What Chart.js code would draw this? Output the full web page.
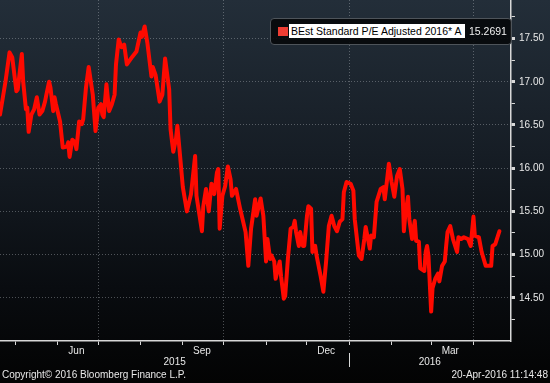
<!DOCTYPE html>
<html>
<head>
<meta charset="utf-8">
<script src="https://cdn.jsdelivr.net/npm/chart.js@4/dist/chart.umd.min.js"></script>
<style>
html,body{margin:0;padding:0;}
body{width:550px;height:383px;overflow:hidden;position:relative;
  background:linear-gradient(to bottom,#232e39 0%,#161d25 40%,#090c10 75%,#030303 100%);
  font-family:"Liberation Sans",Arial,sans-serif;}
#c{position:absolute;left:0;top:-10px;}
.legend{position:absolute;left:270px;top:18px;width:242px;height:27px;box-sizing:border-box;
  border:1px solid #4e545a;border-radius:4px;background:rgba(6,8,10,0.9);}
.sw{position:absolute;left:278px;top:27px;width:10px;height:9px;background:#ee3d33;}
.lt{position:absolute;left:289px;top:24px;width:176px;height:14px;background:#fff;color:#000;
  font-size:10.5px;line-height:14px;padding-left:2px;box-sizing:border-box;white-space:nowrap;overflow:hidden;}
.lv{position:absolute;left:469px;top:24px;height:14px;color:#f0f0f0;font-size:10.5px;line-height:14px;white-space:nowrap;}
.foot{position:absolute;top:369px;height:12px;line-height:12px;font-size:10px;color:#e8e8e8;white-space:nowrap;}
</style>
</head>
<body>
<canvas id="c" width="550" height="393"></canvas>
<div class="legend"></div>
<div class="sw"></div>
<div class="lt">BEst Standard P/E Adjusted 2016* A</div>
<div class="lv">15.2691</div>
<div class="foot" style="left:2px;">Copyright© 2016 Bloomberg Finance L.P.</div>
<div class="foot" style="right:2px;">20-Apr-2016 11:14:48</div>
<script>
// Day offsets from 20-Apr-2015
const days = [0,4,7,9,12,13,16,17,19,20,21,23,25,27,29,31,33,34,36,37,39,40,41,44,46,49,50,51,53,55,56,58,60,61,63,65,68,70,72,74,75,76,78,80,82,84,85,87,89,91,93,
97,100,103,104,106,108,111,112,114,117,119,121,124,125,127,129,130,132,134,137,140,143,144,148,149,151,153,155,157,159,160,161,163,165,167,169,170,173,176,180,182,184,
185,187,188,191,193,195,196,198,199,201,202,205,206,208,209,211,213,215,216,217,219,220,222,223,225,226,228,229,231,232,235,237,239,241,243,245,247,249,251,252,254,257,259,260,263,265,267,268,271,272,274,
276,279,281,282,284,285,287,289,291,293,295,296,297,299,300,302,304,305,307,308,311,312,313,314,316,317,319,321,322,324,326,327,328,330,332,335,336,338,340,343,345,347,348,351,353,356,358,360,361,363,366];
const peValues = [16.62,17.00,17.34,17.28,16.89,16.91,17.32,17.00,16.68,16.70,16.42,16.62,16.68,16.82,16.62,16.66,16.77,16.85,17.00,16.93,16.66,16.82,16.74,16.54,16.24,16.25,16.30,16.13,16.33,16.30,16.22,16.54,16.51,16.57,16.93,17.17,16.85,16.43,16.70,16.74,16.62,16.59,16.97,16.66,16.74,16.85,17.20,17.49,17.40,17.43,17.20,
17.29,17.35,17.57,17.52,17.64,17.45,17.06,17.17,17.08,16.77,16.85,17.27,16.91,16.45,16.19,16.34,16.49,16.14,15.78,15.50,15.70,16.14,15.68,15.27,15.56,15.76,15.50,15.82,15.70,15.95,15.99,15.30,15.68,15.79,16.02,15.87,15.68,15.76,15.53,15.26,14.87,15.30,
15.41,15.64,15.45,15.65,15.45,14.92,15.18,14.95,14.99,14.92,14.72,14.92,14.75,14.49,14.52,14.95,15.30,15.32,15.39,15.26,15.10,15.26,15.10,15.10,15.45,15.56,15.53,15.03,15.10,14.99,14.75,14.57,14.92,15.33,15.45,15.33,15.27,15.38,15.41,15.72,15.84,15.82,15.74,15.41,14.99,14.95,15.18,15.32,15.07,15.22,15.20,
15.61,15.76,15.78,15.64,15.91,16.05,15.84,15.67,15.91,15.99,15.76,15.27,15.45,15.67,15.41,15.18,15.39,15.16,15.15,14.84,14.81,15.03,15.10,14.99,14.34,14.61,14.72,14.78,14.69,14.87,14.92,15.10,15.26,15.33,15.18,15.03,15.20,15.18,15.20,15.18,15.10,15.44,15.22,15.20,15.03,14.87,14.87,14.87,15.10,15.12,15.27];

const monthStarts = [11,42,72,103,134,164,195,225,256,287,316,347];
const quarterStarts = [72,164,256,347];
const monthLabelDays = [56,148,239,330];
const monthLabels = ['Jun','Sep','Dec','Mar'];
const yearLabelDays = [128,315];
const yearLabels = ['2015','2016'];
const yearBreak = 256;
const yTickValues = [14.25,14.5,14.75,15,15.25,15.5,15.75,16,16.25,16.5,16.75,17,17.25,17.5,17.75];
const yLabelValues = [14.5,15,15.5,16,16.5,17,17.5];

const FONT = '"Liberation Sans", Arial, sans-serif';
const GRID = 'rgba(190,195,200,0.38)';
const AXIS = '#d8d8d8';
const TXT = '#e8e8e8';

const yearSeparator = {
  id: 'yearSeparator',
  afterDraw(chart) {
    const s = chart.scales.x2;
    const x = Math.round(s.getPixelForValue(yearBreak)) + 0.5;
    const ctx = chart.ctx;
    ctx.save();
    ctx.strokeStyle = AXIS;
    ctx.lineWidth = 1;
    ctx.beginPath();
    ctx.moveTo(x, s.top - 4);
    ctx.lineTo(x, s.bottom);
    ctx.stroke();
    ctx.restore();
  }
};

new Chart(document.getElementById('c'), {
  type: 'line',
  data: {
    datasets: [{
      data: days.map((d, i) => ({x: d, y: peValues[i]})),
      borderColor: '#ff0a00',
      borderWidth: 4,
      pointRadius: 0,
      tension: 0,
      fill: false,
      borderJoinStyle: 'round',
      borderCapStyle: 'round'
    }]
  },
  plugins: [yearSeparator],
  options: {
    responsive: false,
    animation: false,
    devicePixelRatio: 1,
    layout: {padding: {left: 0, top: 0, right: 2, bottom: 16}},
    plugins: {legend: {display: false}, tooltip: {enabled: false}},
    scales: {
      x: {
        type: 'linear', min: 0, max: 374.5, position: 'bottom',
        afterBuildTicks: s => { s.ticks = [...monthStarts, ...monthLabelDays].sort((a, b) => a - b).map(v => ({value: v})); },
        grid: {
          color: c => (c.tick && quarterStarts.includes(c.tick.value)) ? GRID : 'rgba(0,0,0,0)',
          tickColor: c => (c.tick && monthStarts.includes(c.tick.value)) ? AXIS : 'rgba(0,0,0,0)',
          tickLength: 4, lineWidth: 1
        },
        border: {display: true, color: AXIS, width: 1.5, dash: [1, 2]},
        ticks: {
          autoSkip: false, maxRotation: 0, padding: 1, color: TXT,
          font: {family: FONT, size: 10, lineHeight: 1},
          callback: v => { const i = monthLabelDays.indexOf(v); return i >= 0 ? monthLabels[i] : ''; }
        }
      },
      x2: {
        type: 'linear', min: 0, max: 374.5, position: 'bottom',
        afterBuildTicks: s => { s.ticks = yearLabelDays.map(v => ({value: v})); },
        grid: {drawOnChartArea: false, drawTicks: false, display: false},
        border: {display: false},
        ticks: {
          autoSkip: false, maxRotation: 0, padding: 0, color: TXT,
          font: {family: FONT, size: 10, lineHeight: 1},
          callback: v => { const i = yearLabelDays.indexOf(v); return i >= 0 ? yearLabels[i] : ''; }
        }
      },
      y: {
        position: 'right', min: 14, max: 17.946,
        afterBuildTicks: s => { s.ticks = yTickValues.map(v => ({value: v})); },
        grid: {
          color: c => (c.tick && yLabelValues.includes(c.tick.value)) ? GRID : 'rgba(0,0,0,0)',
          tickColor: AXIS,
          tickWidth: c => (c.tick && yLabelValues.includes(c.tick.value)) ? 3 : 1,
          tickLength: 4
        },
        border: {display: true, color: AXIS, width: 1.5, dash: [1, 2]},
        ticks: {
          autoSkip: false, padding: 4, color: TXT,
          font: {family: FONT, size: 10},
          callback: v => yLabelValues.includes(v) ? v.toFixed(2) : ''
        }
      }
    }
  }
});
</script>
</body>
</html>
